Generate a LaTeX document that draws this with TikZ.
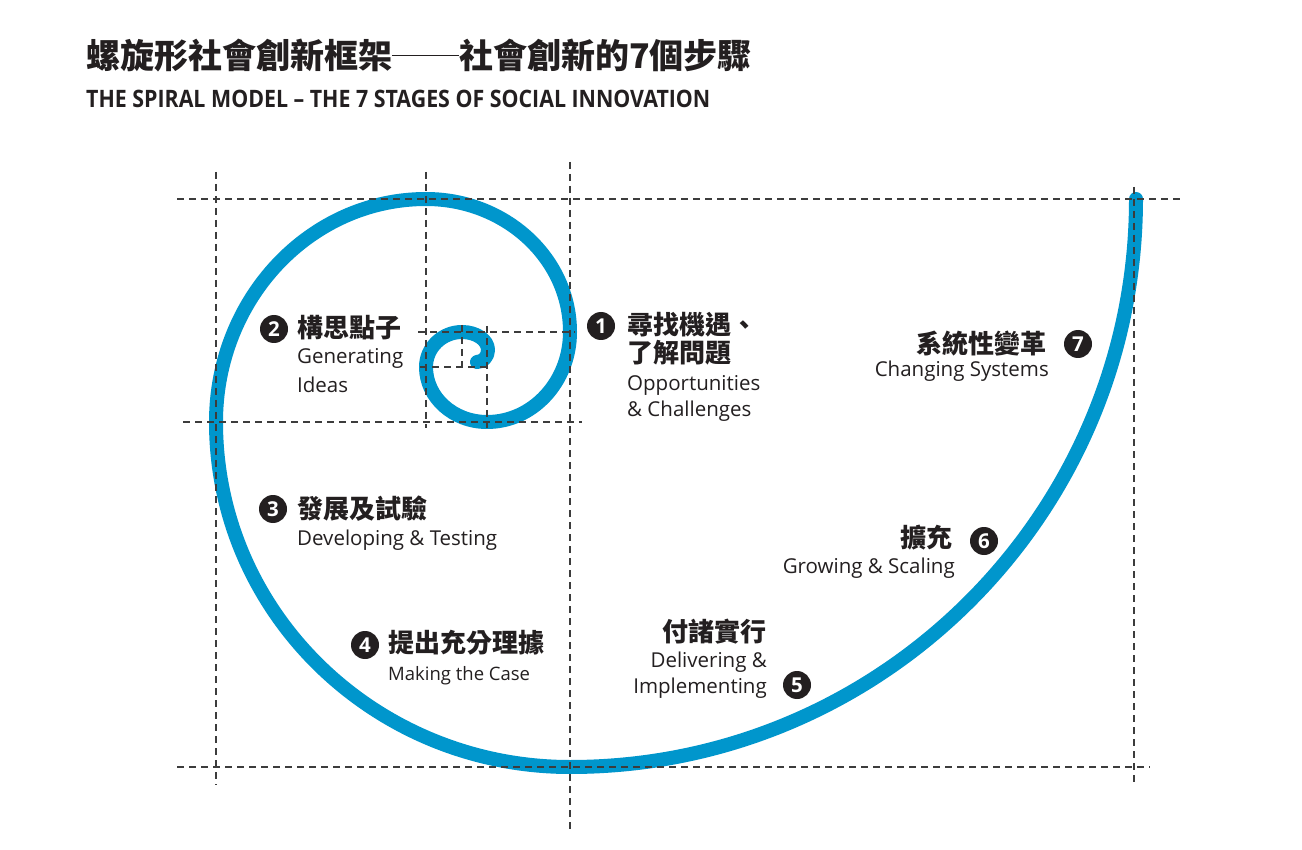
\documentclass[tikz,border=0pt]{standalone}
\usepackage{fontspec}
\setmainfont{Open Sans}
\newfontfamily\cjk{Noto Sans CJK TC}
\newfontfamily\titlefont{Open Sans}[FakeStretch=0.89]
\definecolor{spiralblue}{RGB}{0,150,204}
\definecolor{inkc}{RGB}{35,31,32}
\definecolor{gridc}{RGB}{60,60,60}
\begin{document}
\begin{tikzpicture}[x=1pt,y=1pt,
  gridline/.style={draw=gridc, line width=1.4pt, dash pattern=on 7pt off 5pt},
  numdot/.style={circle, fill=inkc, text=white, minimum size=28pt, inner sep=0pt, font=\fontsize{20.5}{20.5}\selectfont\bfseries},
  zh/.style={inner sep=0pt, text=inkc, font=\cjk\fontsize{26}{26}\selectfont\bfseries},
  en/.style={inner sep=0pt, text=inkc, font=\fontsize{20.5}{20.5}\selectfont},
  ensmall/.style={inner sep=0pt, text=inkc, font=\fontsize{18.5}{18.5}\selectfont},
]
\useasboundingbox[fill=white] (0,0) rectangle (1302,-850);

% title
\node[inner sep=0pt, anchor=west, text=inkc, font=\cjk\fontsize{34}{34}\selectfont\bfseries] (t1) at (86,-56) {螺旋形社會創新框架\rule[13pt]{67pt}{1.3pt}社會創新的7個步驟};
\node[inner sep=0pt, anchor=base west, text=inkc, font=\titlefont\fontsize{24}{24}\selectfont\bfseries] (t2) at (86,-108) {THE SPIRAL MODEL – THE 7 STAGES OF SOCIAL INNOVATION};

% spiral
\draw[spiralblue, line width=14pt, line cap=round, line join=round]
  (1136,-199)
  arc[start angle=0, end angle=-90, x radius=566pt, y radius=568pt]
  arc[start angle=-90, end angle=-180, x radius=354pt, y radius=345pt]
  arc[start angle=180, end angle=90, x radius=210pt, y radius=223pt]
  arc[start angle=90, end angle=0, x radius=144pt, y radius=133pt]
  arc[start angle=0, end angle=-90, x radius=83pt, y radius=90pt]
  arc[start angle=-90, end angle=-180, x radius=61pt, y radius=55pt]
  arc[start angle=180, end angle=90, x radius=36pt, y radius=35pt]
  arc[start angle=90, end angle=0, x radius=26pt, y radius=18pt]
  arc[start angle=0, end angle=-90, x radius=11pt, y radius=12pt];

% grid lines
\draw[gridline] (216,-172) -- (216,-785);
\draw[gridline] (426,-172) -- (426,-428);
\draw[gridline] (570,-162) -- (570,-830);
\draw[gridline] (1134,-187) -- (1134,-785);
\draw[gridline] (462,-325) -- (462,-370);
\draw[gridline] (487,-326) -- (487,-428);
\draw[gridline] (177,-199) -- (1183,-199);
\draw[gridline] (183,-422) -- (582,-422);
\draw[gridline] (418,-332) -- (575,-332);
\draw[gridline] (420,-367) -- (490,-367);
\draw[gridline] (177,-767) -- (1150,-767);

% stage 1
\node[numdot] (n1) at (601,-326) {1};
\node[zh, anchor=west] (z1a) at (627,-325) {尋找機遇、};
\node[zh, anchor=west] (z1b) at (627,-353) {了解問題};
\node[en, anchor=base west] (e1a) at (627,-391) {Opportunities};
\node[en, anchor=base west] (e1b) at (627,-417) {\& Challenges};

% stage 2
\node[numdot] (n2) at (274,-329) {2};
\node[zh, anchor=west] (z2) at (297,-328) {構思點子};
\node[en, anchor=base west] (e2a) at (297,-364) {Generating};
\node[en, anchor=base west] (e2b) at (297,-392) {Ideas};

% stage 3
\node[numdot] (n3) at (273,-509) {3};
\node[zh, anchor=west] (z3) at (297,-509) {發展及試驗};
\node[en, anchor=base west] (e3) at (297,-545) {Developing \& Testing};

% stage 4
\node[numdot] (n4) at (365,-645) {4};
\node[zh, anchor=west] (z4) at (388,-643) {提出充分理據};
\node[ensmall, anchor=base west] (e4) at (388,-680) {Making the Case};

% stage 5
\node[zh, anchor=east] (z5) at (767,-632) {付諸實行};
\node[en, anchor=base east] (e5a) at (767,-667) {Delivering \&};
\node[en, anchor=base east] (e5b) at (767,-693) {Implementing};
\node[numdot] (n5) at (797,-685) {5};

% stage 6
\node[zh, anchor=east] (z6) at (953,-538) {擴充};
\node[numdot] (n6) at (984,-541) {6};
\node[en, anchor=base east] (e6) at (955,-573) {Growing \& Scaling};

% stage 7
\node[zh, anchor=east] (z7) at (1047,-344) {系統性變革};
\node[numdot] (n7) at (1078,-344) {7};
\node[en, anchor=base east] (e7) at (1049,-377) {Changing Systems};
\end{tikzpicture}
\end{document}
